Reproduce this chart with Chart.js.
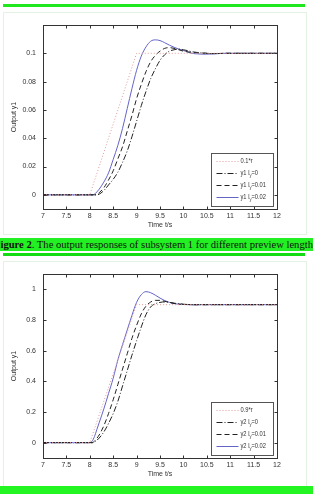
<!DOCTYPE html>
<html>
<head>
<meta charset="utf-8">
<script src="https://cdn.jsdelivr.net/npm/chart.js@4/dist/chart.umd.min.js"></script>
<style>
  html, body { margin: 0; padding: 0; background: #fff; }
  body { width: 313px; height: 494px; position: relative; overflow: hidden; }
  .bar { position: absolute; background: #1fe81f; }
  .panel { position: absolute; border: 1px solid #e4f2e4; }
  canvas { position: absolute; left: 0; }
  .cap {
    position: absolute; left: 0; top: 238px; width: 313px; height: 13px;
    background: #22f022; white-space: nowrap; overflow: hidden;
    font-family: "Liberation Serif", "Times New Roman", serif; font-size: 10.6px; line-height: 13px;
    color: #111; text-indent: -6px;
  }
</style>
</head>
<body>
<div class="bar" style="left:3px;top:4px;width:302px;height:3px"></div>
<div class="panel" style="left:3px;top:12px;width:302px;height:221px"></div>
<div class="panel" style="left:3px;top:261px;width:302px;height:224px"></div>
<canvas id="c1" width="313" height="222" style="top:12px"></canvas>
<div class="cap"><b>Figure 2</b>. The output responses of subsystem 1 for different preview lengths</div>
<div class="bar" style="left:3px;top:253px;width:302px;height:3px;background:#14dc14"></div>
<canvas id="c2" width="313" height="225" style="top:261px"></canvas>
<div class="bar" style="left:0;top:486px;width:313px;height:8px;background:#22f522"></div>
<script>
// time grid shared by the response curves (s)
const times = [7, 8, 8.05, 8.1, 8.15, 8.2, 8.3, 8.4, 8.5, 8.6, 8.7, 8.8, 8.9, 9.0, 9.1, 9.2, 9.3, 9.4, 9.5,
  9.6, 9.7, 9.8, 9.9, 10.0, 10.1, 10.2, 10.3, 10.4, 10.5, 10.6, 10.7, 10.8, 10.9, 11, 12];

// reference ramps
const refTimes = [7, 8, 9, 12];
const ref1 = [0, 0, 0.1, 0.1];
const ref2 = [0, 0, 0.9, 0.9];

// subsystem 1 outputs
const y1L0 = [0, 0, 0, 0, 0, 0.0005, 0.003, 0.007, 0.011, 0.016, 0.023, 0.031, 0.041, 0.052, 0.063, 0.073,
  0.082, 0.089, 0.095, 0.099, 0.1015, 0.1025, 0.103, 0.1025, 0.1018, 0.101, 0.1006, 0.1003, 0.1, 0.0998,
  0.0998, 0.0999, 0.1, 0.1, 0.1];
const y1L001 = [0, 0, 0, 0, 0.0003, 0.0015, 0.005, 0.0105, 0.017, 0.0255, 0.034, 0.045, 0.056, 0.068, 0.078,
  0.087, 0.094, 0.0985, 0.1015, 0.1035, 0.104, 0.1035, 0.1025, 0.1015, 0.101, 0.1006, 0.1004, 0.1002, 0.1,
  0.0998, 0.0998, 0.0999, 0.1, 0.1, 0.1];
const y1L002 = [0, 0, 0, 0.0005, 0.002, 0.004, 0.009, 0.0155, 0.025, 0.035, 0.047, 0.061, 0.075, 0.088, 0.098,
  0.1045, 0.1085, 0.1095, 0.109, 0.1075, 0.1058, 0.1043, 0.103, 0.102, 0.1008, 0.0999, 0.0996, 0.0994,
  0.0994, 0.0995, 0.0997, 0.0999, 0.1, 0.1, 0.1];

// subsystem 2 outputs
const y2L0 = [0, 0, 0, 0.005, 0.015, 0.03, 0.07, 0.125, 0.19, 0.27, 0.37, 0.47, 0.57, 0.665, 0.755, 0.835,
  0.885, 0.906, 0.915, 0.918, 0.915, 0.91, 0.906, 0.903, 0.901, 0.9, 0.9, 0.9, 0.9, 0.9, 0.9, 0.9, 0.9, 0.9, 0.9];
const y2L001 = [0, 0, 0, 0.01, 0.028, 0.05, 0.11, 0.19, 0.28, 0.38, 0.48, 0.58, 0.68, 0.765, 0.84, 0.89,
  0.917, 0.928, 0.928, 0.922, 0.915, 0.908, 0.904, 0.902, 0.901, 0.9, 0.9, 0.9, 0.9, 0.9, 0.9, 0.9, 0.9, 0.9, 0.9];
const y2L002 = [0, 0, 0.01, 0.04, 0.085, 0.13, 0.22, 0.32, 0.42, 0.54, 0.64, 0.735, 0.83, 0.915, 0.965, 0.985,
  0.978, 0.962, 0.943, 0.927, 0.915, 0.907, 0.903, 0.901, 0.9, 0.899, 0.899, 0.9, 0.9, 0.9, 0.9, 0.9, 0.9, 0.9, 0.9];

// ticks and labels
const xTicks = [7, 7.5, 8, 8.5, 9, 9.5, 10, 10.5, 11, 11.5, 12];
const yTicks1 = [0, 0.02, 0.04, 0.06, 0.08, 0.1];
const yTicks2 = [0, 0.2, 0.4, 0.6, 0.8, 1];
const names1 = ['0.1*r', 'y1 l_y=0', 'y1 l_y=0.01', 'y1 l_y=0.02'];
const names2 = ['0.9*r', 'y2 l_y=0', 'y2 l_y=0.01', 'y2 l_y=0.02'];

const tickFont = { family: "'Liberation Sans', Arial, sans-serif", size: 7 };
const ink = '#333';

const styles = [
  { borderColor: '#e39a9a', borderDash: [1, 2] },
  { borderColor: '#222', borderDash: [6, 2, 1, 2] },
  { borderColor: '#222', borderDash: [5, 3] },
  { borderColor: '#6464c8', borderDash: [] }
];

// MATLAB style box, inward ticks and legend
const matlabPlugin = {
  id: 'matlab',
  afterDraw(chart) {
    const { ctx, chartArea: a, scales: { x, y } } = chart;
    const L = Math.round(a.left) + 0.5, R = Math.round(a.right) + 0.5;
    const T = Math.round(a.top) + 0.5, B = Math.round(a.bottom) + 0.5;
    ctx.save();
    ctx.strokeStyle = ink;
    ctx.lineWidth = 1;
    ctx.setLineDash([]);
    ctx.strokeRect(L, T, R - L, B - T);
    ctx.beginPath();
    x.ticks.forEach(t => {
      const px = Math.round(x.getPixelForValue(t.value)) + 0.5;
      ctx.moveTo(px, B); ctx.lineTo(px, B - 3);
      ctx.moveTo(px, T); ctx.lineTo(px, T + 3);
    });
    y.ticks.forEach(t => {
      const py = Math.round(y.getPixelForValue(t.value)) + 0.5;
      ctx.moveTo(L, py); ctx.lineTo(L + 3, py);
      ctx.moveTo(R, py); ctx.lineTo(R - 3, py);
    });
    ctx.stroke();

    // legend box in lower right corner
    const w = 62, h = 53;
    const bx = Math.round(a.right) - 4 - w + 0.5, by = Math.round(a.bottom) - 3 - h + 0.5;
    ctx.fillStyle = '#fff';
    ctx.fillRect(bx, by, w, h);
    ctx.strokeStyle = '#555';
    ctx.strokeRect(bx, by, w, h);
    chart.data.datasets.forEach((ds, i) => {
      const ry = Math.round(by + 7 + i * 12.2) + 0.5;
      ctx.strokeStyle = ds.borderColor;
      ctx.setLineDash(ds.borderDash);
      ctx.beginPath();
      ctx.moveTo(bx + 5, ry); ctx.lineTo(bx + 27, ry);
      ctx.stroke();
      ctx.setLineDash([]);
      // squeeze the text horizontally like the narrow original
      ctx.save();
      ctx.translate(bx + 29, ry);
      ctx.scale(0.82, 1);
      ctx.fillStyle = ink;
      ctx.textBaseline = 'middle';
      ctx.textAlign = 'left';
      const parts = ds.label.split('_y');
      let tx = 0;
      ctx.font = `${tickFont.size}px ${tickFont.family}`;
      ctx.fillText(parts[0], tx, 0);
      tx += ctx.measureText(parts[0]).width;
      if (parts.length > 1) {
        ctx.font = `5px ${tickFont.family}`;
        ctx.fillText('y', tx, 2);
        tx += ctx.measureText('y').width;
        ctx.font = `${tickFont.size}px ${tickFont.family}`;
        ctx.fillText(parts[1], tx, 0);
      }
      ctx.restore();
    });
    ctx.restore();
  }
};

function makeChart(id, ref, series, names, yTicks, yMin, yMax, padBottom) {
  const curves = [ref].concat(series);
  const datasets = curves.map((vals, i) => ({
    label: names[i],
    data: (i === 0 ? refTimes : times).map((t, k) => ({ x: t, y: vals[k] })),
    borderColor: styles[i].borderColor,
    borderDash: styles[i].borderDash,
    borderWidth: 1,
    pointRadius: 0,
    fill: false,
    tension: i === 0 ? 0 : 0.4,
    cubicInterpolationMode: i === 0 ? 'default' : 'monotone'
  }));
  return new Chart(document.getElementById(id), {
    type: 'line',
    data: { datasets },
    options: {
      responsive: false,
      animation: false,
      devicePixelRatio: 1,
      layout: { padding: { left: 10, right: 36, top: 13, bottom: padBottom } },
      plugins: { legend: { display: false }, tooltip: { enabled: false } },
      scales: {
        x: {
          type: 'linear', min: 7, max: 12,
          grid: { display: false, drawTicks: false }, border: { display: false },
          afterBuildTicks: s => { s.ticks = xTicks.map(v => ({ value: v })); },
          afterFit: s => { s.height = 20; },
          ticks: { color: ink, font: tickFont, padding: 3, maxRotation: 0, autoSkip: false, callback: v => String(v) },
          title: { display: true, text: 'Time t/s', color: ink, font: tickFont, padding: 0 }
        },
        y: {
          type: 'linear', min: yMin, max: yMax,
          grid: { display: false, drawTicks: false }, border: { display: false },
          afterBuildTicks: s => { s.ticks = yTicks.map(v => ({ value: v })); },
          afterFit: s => { s.width = 33; },
          ticks: { color: ink, font: tickFont, padding: 7, autoSkip: false, callback: v => String(v) },
          title: { display: true, text: 'Output y1', color: ink, font: tickFont, padding: 0 }
        }
      }
    },
    plugins: [matlabPlugin]
  });
}

makeChart('c1', ref1, [y1L0, y1L001, y1L002], names1, yTicks1, -0.01, 0.12, 5);
makeChart('c2', ref2, [y2L0, y2L001, y2L002], names2, yTicks2, -0.1, 1.1, 8);
</script>
</body>
</html>
